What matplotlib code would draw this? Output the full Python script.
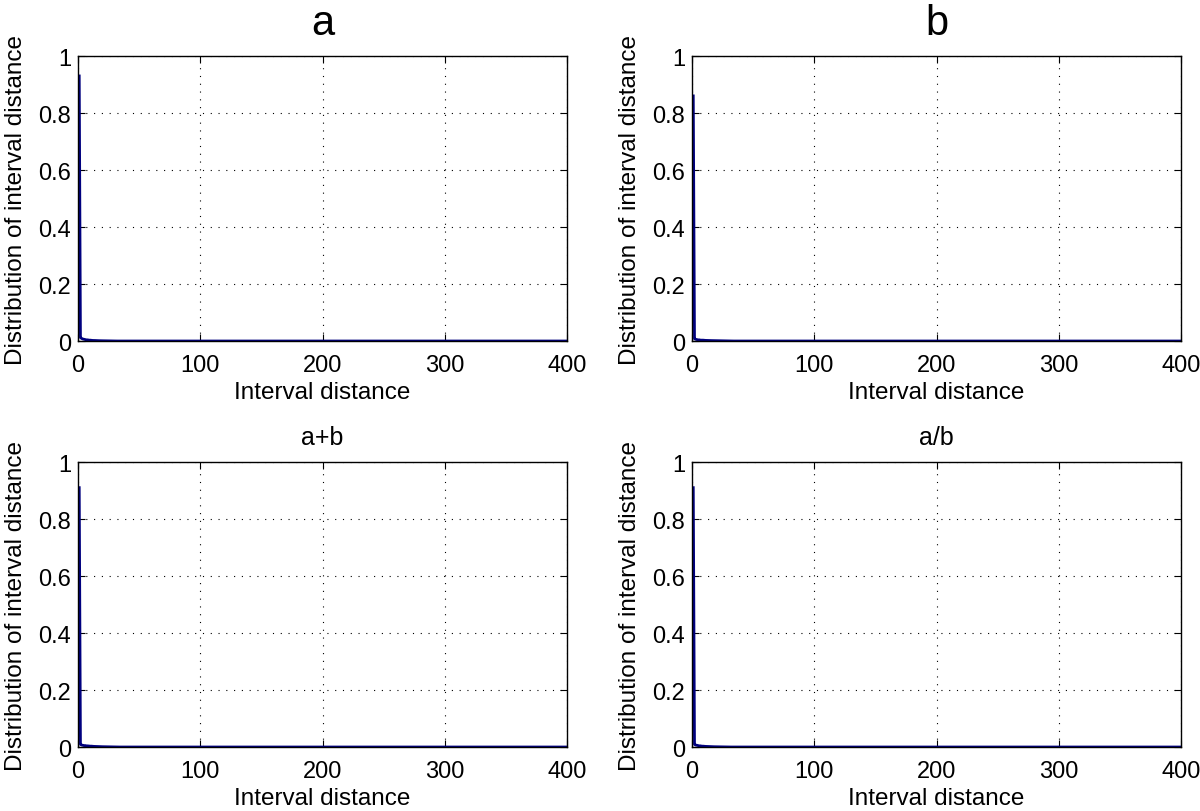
import numpy as np
import matplotlib
matplotlib.use("Agg")
import matplotlib.pyplot as plt

plt.rcParams['font.family'] = ['Liberation Sans', 'DejaVu Sans']

# distribution of interval distance, values for distance 1, 2, 3, ... (rest are 0)
dist_a = [0.93, 0.012, 0.009, 0.007, 0.006, 0.005, 0.004, 0.004, 0.003, 0.003,
          0.0025, 0.002, 0.002, 0.0018, 0.0015, 0.0014, 0.0012, 0.001, 0.001, 0.0009,
          0.0008, 0.0007, 0.0006, 0.0005, 0.0005, 0.0004, 0.0004, 0.0003, 0.0003, 0.0002]
dist_b = [0.86, 0.008, 0.006, 0.005, 0.004, 0.004, 0.003, 0.003, 0.003, 0.0025,
          0.0022, 0.002, 0.002, 0.0018, 0.0016, 0.0015, 0.0014, 0.0012, 0.0011, 0.001,
          0.001, 0.0009, 0.0008, 0.0008, 0.0007, 0.0006, 0.0006, 0.0005, 0.0005, 0.0004]
dist_ab = [0.91, 0.009, 0.007, 0.006, 0.005, 0.005, 0.004, 0.004, 0.0035, 0.003,
           0.003, 0.0025, 0.0022, 0.002, 0.0018, 0.0016, 0.0015, 0.0014, 0.0012, 0.0011,
           0.001, 0.001, 0.0009, 0.0008, 0.0007, 0.0006, 0.0006, 0.0005, 0.0005, 0.0004]
dist_adivb = [0.91, 0.009, 0.007, 0.006, 0.005, 0.004, 0.004, 0.003, 0.003, 0.0025,
              0.0022, 0.002, 0.0018, 0.0016, 0.0015, 0.0013, 0.0012, 0.001, 0.001, 0.0009,
              0.0008, 0.0007, 0.0006, 0.0006, 0.0005, 0.0004, 0.0004, 0.0003, 0.0003, 0.0002]
n_points = 400

titles = ["a", "b", "a+b", "a/b"]
title_sizes = [30, 30, 18, 18]
title_pads = [16, 16, 13, 13]
series = [dist_a, dist_b, dist_ab, dist_adivb]

xticks = [0, 100, 200, 300, 400]
yticks = [0, 0.2, 0.4, 0.6, 0.8, 1]
ytick_labels = ["0", "0.2", "0.4", "0.6", "0.8", "1"]

fig = plt.figure(figsize=(12, 8.12), dpi=100)

# axes boxes [left, bottom, width, height] as fractions of the figure
positions = [[0.065, 0.5788, 0.4075, 0.351],
             [0.5767, 0.5788, 0.4075, 0.351],
             [0.065, 0.0788, 0.4075, 0.351],
             [0.5767, 0.0788, 0.4075, 0.351]]

for pos, title, tsize, tpad, vals in zip(positions, titles, title_sizes, title_pads, series):
    ax = fig.add_axes(pos)
    y = np.zeros(n_points)
    y[:len(vals)] = vals
    x = np.arange(1, n_points + 1)
    ax.plot(x, y, color="#00007f", linewidth=2.0)
    ax.set_xlim(0, 400)
    ax.set_ylim(0, 1)
    ax.set_xticks(xticks)
    ax.set_yticks(yticks)
    ax.set_yticklabels(ytick_labels)
    ax.grid(True, linestyle=(0, (1, 6)), color="black", linewidth=0.8)
    ax.tick_params(direction="in", top=True, right=True, labelsize=17, length=5)
    ax.tick_params(axis="x", pad=9)
    ax.tick_params(axis="y", pad=5)
    for s in ax.spines.values():
        s.set_linewidth(1.0)
    ax.set_xlabel("Interval distance", fontsize=17.5, labelpad=4)
    ax.set_ylabel("Distribution of interval distance", fontsize=17.5, labelpad=8)
    ax.set_title(title, fontsize=tsize, pad=tpad)

fig.savefig("out.png", dpi=100)
